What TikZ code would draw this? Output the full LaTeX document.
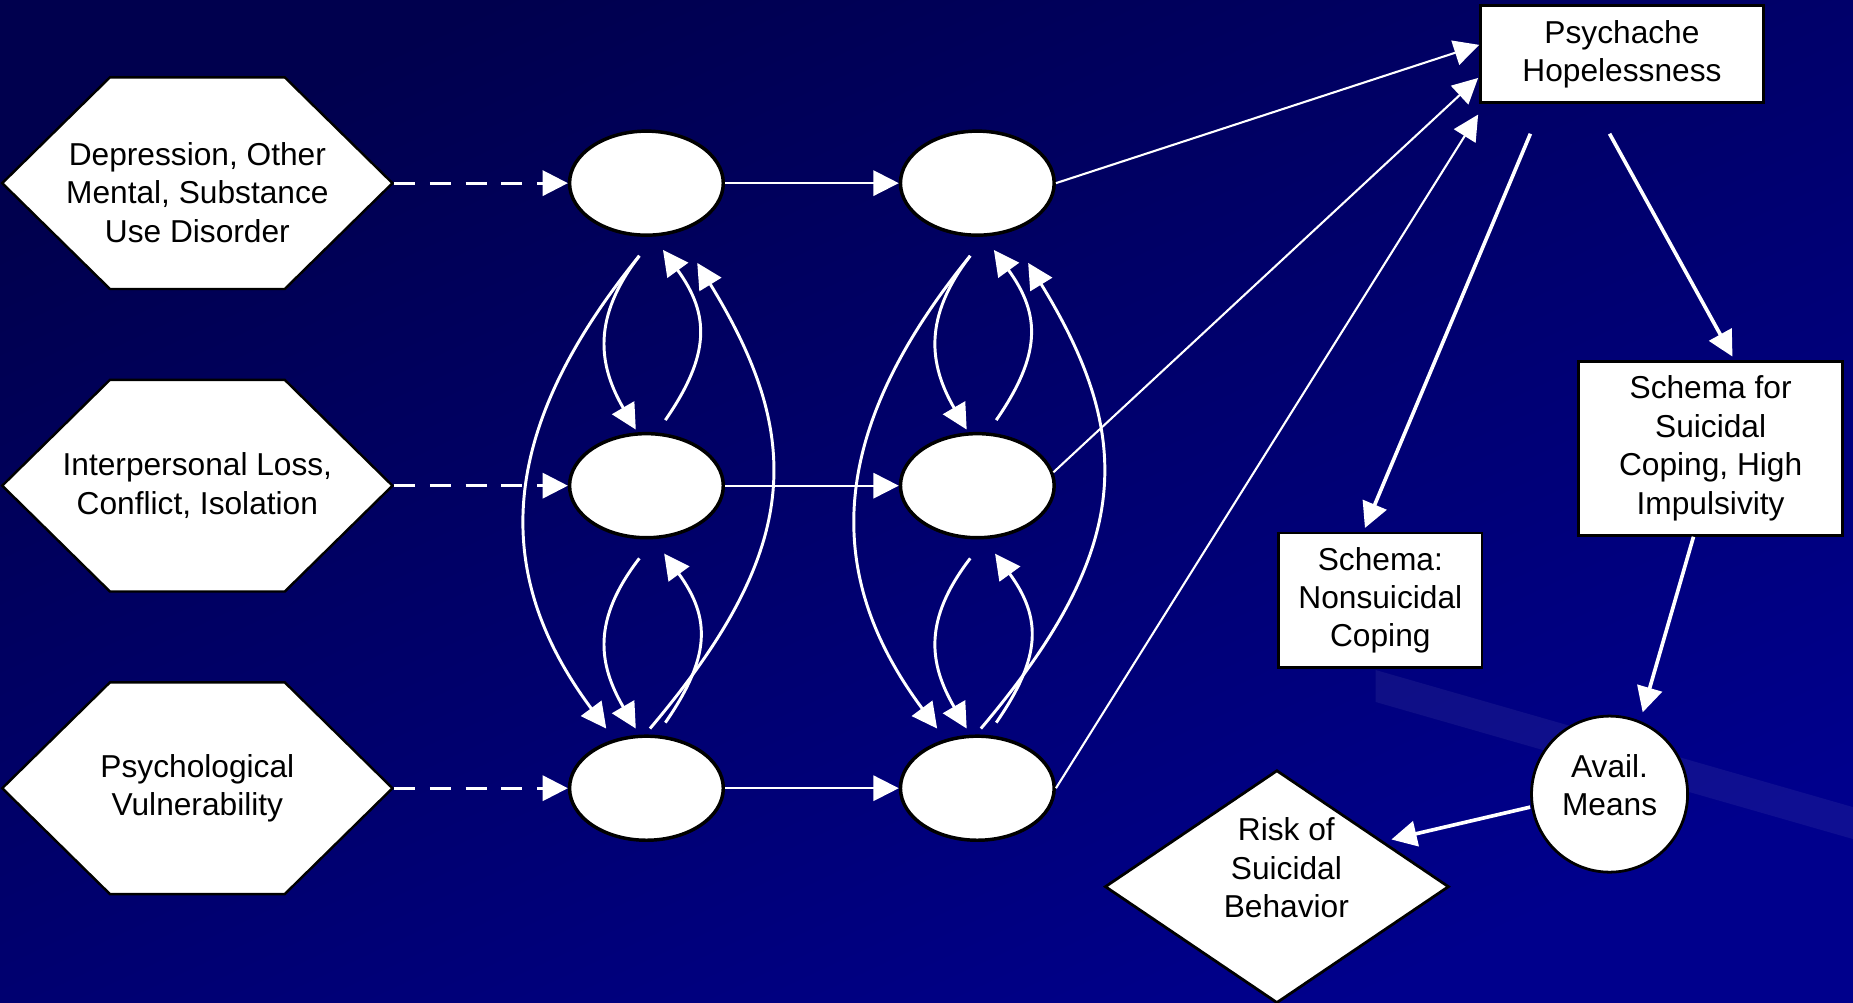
\documentclass[tikz,border=0pt]{standalone}
\usepackage{fontspec}
\setmainfont{Liberation Sans}
\usetikzlibrary{shapes.geometric, shapes.symbols, arrows.meta, calc}

\definecolor{slidebg}{RGB}{0,0,140}
\definecolor{slidedark}{RGB}{0,0,78}

\begin{document}
\begin{tikzpicture}[
    x=0.012cm, y=0.012cm,
    every node/.style={font=\fontsize{9.15}{11.1}\selectfont, align=center},
    every label/.style={font=\fontsize{9.15}{11.1}\selectfont, align=center},
    hexa/.style={draw, line width=0.7pt, fill=white, signal, signal to=west and east, signal pointer angle=89, minimum width=3.96cm, minimum height=2.148cm, inner sep=0pt},
    latent/.style={draw, line width=1pt, fill=white, ellipse, minimum width=1.56cm, minimum height=1.056cm},
    box/.style={draw, line width=0.8pt, fill=white, rectangle, inner sep=0pt},
    arrow/.style={-{Triangle[length=7.3pt, width=7.3pt]}, white, line width=0.6pt},
    curve/.style={arrow, line width=0.85pt},
    heavy/.style={arrow, line width=1.05pt},
    dasharrow/.style={arrow, line width=0.8pt, dash pattern=on 6.1pt off 4.2pt}
]
% slide background
\useasboundingbox (0,0) rectangle (1568,848);
\fill[slidebg] (0,0) rectangle (1568,848);
\shade[top color=slidedark, bottom color=slidebg, shading angle=25] (0,0) rectangle (1568,848);
\fill[white, opacity=0.06] (1164,281) -- (1568,165) -- (1568,138) -- (1164,254) -- cycle;

% observed causes
\node[hexa, label={[yshift=-0.096cm]center:Depression, Other\\Mental, Substance\\Use Disorder}] (dep) at (167,693) {};
\node[hexa, label={center:Interpersonal Loss,\\Conflict, Isolation}] (loss) at (167,437) {};
\node[hexa, label={center:Psychological\\Vulnerability}] (vuln) at (167,181) {};

% latent states
\node[latent] (d1) at (547,693) {};
\node[latent] (l1) at (547,437) {};
\node[latent] (v1) at (547,181) {};
\node[latent] (d2) at (827,693) {};
\node[latent] (l2) at (827,437) {};
\node[latent] (v2) at (827,181) {};

% right side
\node[box, minimum width=2.868cm, minimum height=0.984cm] (psy) at (1372.5,802) {Psychache\\Hopelessness};
\node[box, minimum width=2.676cm, minimum height=1.764cm] (suic) at (1447.5,468.5) {Schema for\\Suicidal\\Coping, High\\Impulsivity};
\node[box, minimum width=2.064cm, minimum height=1.368cm] (nonsuic) at (1168,340) {Schema:\\Nonsuicidal\\Coping};
\node[draw, line width=0.8pt, fill=white, circle, minimum size=1.584cm, inner sep=0pt,
      label={[yshift=0.09cm]center:Avail.\\Means}] (means) at (1362,176) {};
\node[draw, line width=0.8pt, fill=white, diamond, minimum width=3.492cm, minimum height=2.364cm, inner sep=0pt,
      label={[xshift=0.096cm, yshift=0.19cm]center:Risk of\\Suicidal\\Behavior}] (risk) at (1080.5,97.7) {};

% inputs
\draw[dasharrow] (dep.east) -- (d1.west);
\draw[dasharrow] (loss.east) -- (l1.west);
\draw[dasharrow] (vuln.east) -- (v1.west);
\draw[arrow] (d1.east) -- (d2.west);
\draw[arrow] (l1.east) -- (l2.west);
\draw[arrow] (v1.east) -- (v2.west);

% reciprocal paths, first wave
\draw[curve] ($(d1.south)+(-6,-16)$) .. controls +(-40,-52) and +(-32,55) .. ($(l1.north)+(-9,2)$);
\draw[curve] ($(l1.north)+(16,10)$) .. controls +(38,55) and +(40,-55) .. ($(d1.south)+(14,-11)$);
\draw[curve] ($(l1.south)+(-6,-16)$) .. controls +(-40,-52) and +(-32,55) .. ($(v1.north)+(-9,5)$);
\draw[curve] ($(v1.north)+(16,10)$) .. controls +(38,55) and +(40,-55) .. ($(l1.south)+(15,-12)$);
\draw[curve] ($(d1.south)+(-6,-16)$) .. controls +(-122,-150) and +(-97,130) .. ($(v1.north)+(-34,5)$);
\draw[curve] ($(v1.north)+(3,5)$) .. controls +(127,150) and +(92,-150) .. ($(d1.south)+(43,-22)$);

% reciprocal paths, second wave
\draw[curve] ($(d2.south)+(-6,-16)$) .. controls +(-40,-52) and +(-32,55) .. ($(l2.north)+(-9,2)$);
\draw[curve] ($(l2.north)+(16,10)$) .. controls +(38,55) and +(40,-55) .. ($(d2.south)+(14,-11)$);
\draw[curve] ($(l2.south)+(-6,-16)$) .. controls +(-40,-52) and +(-32,55) .. ($(v2.north)+(-9,5)$);
\draw[curve] ($(v2.north)+(16,10)$) .. controls +(38,55) and +(40,-55) .. ($(l2.south)+(15,-12)$);
\draw[curve] ($(d2.south)+(-6,-16)$) .. controls +(-122,-150) and +(-97,130) .. ($(v2.north)+(-34,5)$);
\draw[curve] ($(v2.north)+(3,5)$) .. controls +(127,150) and +(92,-150) .. ($(d2.south)+(43,-22)$);

% towards psychache
\draw[arrow] (d2.east) -- ($(psy.west)+(0,8)$);
\draw[arrow] (l2.10) -- ($(psy.west)+(-1,-20)$);
\draw[arrow] (v2.east) -- ($(psy.west)+(-1,-51)$);

% outcomes
\draw[heavy] ($(psy.south)+(-77.5,-25)$) -- ($(nonsuic.north)+(-13,3)$);
\draw[heavy] ($(psy.south)+(-10.5,-25)$) -- ($(suic.north)+(18.5,3)$);
\draw[heavy] ($(suic.south)+(-14.5,0)$) -- ($(means.north)+(28,2)$);
\draw[heavy] ($(means.west)+(0,-11)$) -- ($(risk.east)!0.34!(risk.north)+(0,6)$);
\end{tikzpicture}
\end{document}
